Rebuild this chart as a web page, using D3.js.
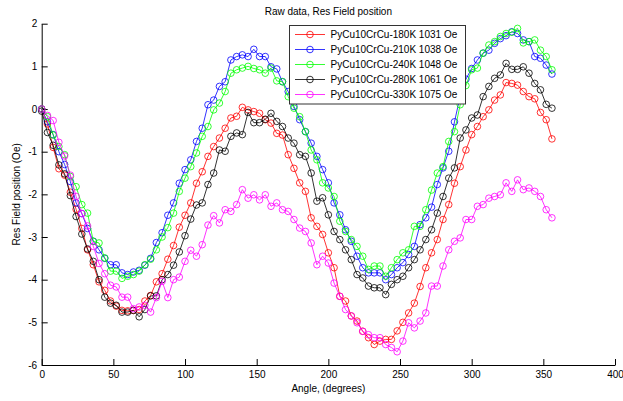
<!DOCTYPE html>
<html>
<head>
<meta charset="utf-8">
<script src="https://cdn.jsdelivr.net/npm/d3@7"></script>
<style>
  html, body { margin: 0; padding: 0; background: #fff; }
  svg { display: block; font-family: "Liberation Sans", Arial, sans-serif; }
</style>
</head>
<body>
<svg id="chart" width="623" height="401"></svg>
<script>
const angles = [0,4,8,12,16,20,24,28,32,36,40,44,48,52,56,60,64,68,72,76,80,84,88,92,96,100,104,108,112,116,120,124,128,132,136,140,144,148,152,156,160,164,168,172,176,180,184,188,192,196,200,204,208,212,216,220,224,228,232,236,240,244,248,252,256,260,264,268,272,276,280,284,288,292,296,300,304,308,312,316,320,324,328,332,336,340,344,348,352,356];

const seriesNames = ["PyCu10CrCu-180K 1031 Oe","PyCu10CrCu-210K 1038 Oe","PyCu10CrCu-240K 1048 Oe","PyCu10CrCu-280K 1061 Oe","PyCu10CrCu-330K 1075 Oe"];
const seriesColors = ["#ff0000","#0000ff","#00ff00","#000000","#ff00ff"];

const res180K = [0.0,-0.35,-0.9,-1.4,-1.55,-1.95,-2.35,-2.8,-3.3,-3.65,-4.05,-4.25,-4.5,-4.62,-4.72,-4.73,-4.72,-4.7,-4.5,-4.37,-4.05,-3.86,-3.52,-3.2,-2.77,-2.49,-2.2,-1.74,-1.47,-1.11,-0.88,-0.68,-0.45,-0.21,-0.17,0.04,-0.02,-0.06,-0.1,-0.25,-0.33,-0.57,-0.61,-1.07,-1.39,-1.73,-1.93,-2.55,-2.75,-2.94,-3.37,-3.72,-4.39,-4.5,-4.85,-4.97,-5.21,-5.36,-5.52,-5.44,-5.4,-5.4,-5.2,-5.0,-4.78,-4.55,-4.16,-3.72,-3.37,-3.06,-2.59,-2.24,-1.74,-1.35,-0.96,-0.6,-0.41,-0.18,-0.02,0.21,0.33,0.62,0.6,0.56,0.41,0.29,0.24,-0.08,-0.25,-0.7];

const res210K = [0.0,-0.3,-0.6,-1.0,-1.3,-1.7,-2.2,-2.45,-2.8,-3.1,-3.3,-3.5,-3.65,-3.65,-3.84,-3.88,-3.82,-3.78,-3.66,-3.5,-3.13,-2.9,-2.49,-2.2,-1.74,-1.42,-1.19,-0.76,-0.45,0.1,0.21,0.53,0.64,1.15,1.23,1.27,1.23,1.4,1.23,1.23,0.99,0.94,0.64,0.41,0.06,-0.25,-0.53,-0.8,-1.11,-1.42,-1.73,-2.2,-2.48,-2.83,-3.1,-3.45,-3.72,-3.84,-3.84,-3.84,-4.0,-3.88,-3.72,-3.6,-3.41,-3.22,-2.71,-2.55,-2.3,-1.77,-1.38,-0.99,-0.3,0.3,0.7,0.95,1.15,1.31,1.38,1.54,1.65,1.72,1.81,1.77,1.62,1.58,1.23,1.19,1.03,0.82];

const res240K = [0.0,-0.18,-0.61,-0.88,-1.07,-1.58,-1.82,-2.24,-2.44,-3.1,-3.14,-3.49,-3.8,-3.8,-3.97,-3.92,-3.88,-3.8,-3.65,-3.52,-3.3,-3.0,-2.78,-2.44,-1.93,-1.62,-1.35,-1.03,-0.64,-0.41,-0.02,0.14,0.41,0.84,0.92,0.96,1.0,0.95,0.92,0.84,0.96,0.66,0.64,0.29,0.02,-0.18,-0.53,-0.96,-1.19,-1.73,-1.85,-2.05,-2.63,-2.87,-3.06,-3.22,-3.45,-3.76,-3.68,-3.68,-3.92,-3.72,-3.53,-3.37,-3.3,-2.75,-2.75,-2.36,-1.9,-1.5,-1.35,-0.76,-0.53,0.1,0.55,0.92,0.96,1.31,1.5,1.58,1.7,1.77,1.8,1.89,1.55,1.58,1.62,1.38,1.23,0.92];

const res280K = [-0.05,-0.55,-0.85,-1.31,-1.52,-2.03,-2.52,-2.93,-3.28,-3.57,-4.0,-4.41,-4.55,-4.6,-4.76,-4.76,-4.72,-4.87,-4.7,-4.38,-4.38,-4.0,-3.88,-3.66,-3.35,-2.97,-2.58,-2.25,-2.2,-1.77,-1.5,-0.96,-0.99,-0.64,-0.56,-0.6,-0.08,-0.32,-0.32,-0.24,-0.1,-0.29,-0.41,-0.68,-0.8,-1.07,-1.11,-1.5,-2.16,-2.08,-2.48,-2.87,-3.06,-3.3,-3.53,-3.88,-3.96,-4.15,-4.19,-4.19,-4.35,-4.11,-4.0,-3.92,-3.72,-3.53,-3.3,-3.06,-2.83,-2.44,-2.05,-1.62,-1.38,-0.68,-0.49,-0.21,-0.14,0.29,0.53,0.72,0.8,1.07,0.93,0.93,0.99,0.84,0.6,0.45,0.11,0.02];

const res330K = [0.0,-0.15,-0.27,-0.78,-1.1,-1.55,-2.05,-2.45,-2.74,-3.22,-3.62,-3.86,-4.13,-4.17,-4.41,-4.41,-4.68,-4.64,-4.6,-4.76,-4.42,-4.04,-4.42,-4.0,-3.94,-3.57,-3.31,-3.45,-3.18,-2.72,-2.5,-2.67,-2.36,-2.4,-2.24,-1.89,-2.09,-2.01,-2.13,-2.01,-2.28,-2.2,-2.36,-2.4,-2.59,-2.79,-2.87,-3.14,-3.65,-3.45,-3.61,-4.08,-4.39,-4.7,-4.85,-5.01,-5.21,-5.29,-5.36,-5.36,-5.52,-5.59,-5.69,-5.44,-5.01,-5.13,-4.97,-4.78,-4.15,-4.15,-3.68,-3.3,-3.1,-3.02,-2.59,-2.59,-2.28,-2.24,-2.09,-2.05,-2.01,-1.73,-1.93,-1.66,-1.89,-1.85,-1.93,-2.05,-2.36,-2.55];

const xTicks = [0,50,100,150,200,250,300,350,400];
const yTicks = [-6,-5,-4,-3,-2,-1,0,1,2];
const titleText = "Raw data, Res Field position";
const xLabel = "Angle, (degrees)";
const yLabel = "Res Field position (Oe)";

const allSeries = [res180K, res210K, res240K, res280K, res330K];

const svg = d3.select("#chart");
const plotLeft = 41.7, plotRight = 615, plotTop = 23.7, plotBottom = 365;

const x = d3.scaleLinear().domain([0, 400]).range([plotLeft, plotRight]);
const y = d3.scaleLinear().domain([-6, 2]).range([plotBottom, plotTop]);

// axes
const fmt = d => String(d);
const xAxis = d3.axisBottom(x).tickValues(xTicks).tickFormat(fmt).tickSizeInner(-6).tickSizeOuter(0).tickPadding(5.5);
const yAxis = d3.axisLeft(y).tickValues(yTicks).tickFormat(fmt).tickSizeInner(-6).tickSizeOuter(0).tickPadding(4.5);

const gx = svg.append("g").attr("transform", `translate(0,${plotBottom})`).call(xAxis);
const gy = svg.append("g").attr("transform", `translate(${plotLeft},0)`).call(yAxis);
[gx, gy].forEach(g => {
  g.selectAll("path.domain").attr("stroke", "#000").attr("stroke-width", 1);
  g.selectAll(".tick line").attr("stroke", "#000").attr("stroke-width", 1);
  g.selectAll(".tick text").attr("fill", "#000").style("font-size", "10px")
    .style("font-family", "'Liberation Sans', Arial, sans-serif");
});

// series
const line = d3.line().x((d, i) => x(angles[i])).y(d => y(d));
allSeries.forEach((vals, si) => {
  const g = svg.append("g");
  g.append("path").datum(vals)
    .attr("d", line).attr("fill", "none")
    .attr("stroke", seriesColors[si]).attr("stroke-width", 0.8);
  g.selectAll("circle").data(vals).join("circle")
    .attr("cx", (d, i) => x(angles[i])).attr("cy", d => y(d))
    .attr("r", 3.3).attr("fill", "none")
    .attr("stroke", seriesColors[si]).attr("stroke-width", 0.8);
});

// title and labels
svg.append("text").attr("x", (plotLeft + plotRight) / 2).attr("y", 15)
  .attr("text-anchor", "middle").style("font-size", "10px").attr("fill", "#000").text(titleText);
svg.append("text").attr("x", (plotLeft + plotRight) / 2).attr("y", 392)
  .attr("text-anchor", "middle").style("font-size", "10px").attr("fill", "#000").text(xLabel);
svg.append("text").attr("transform", `translate(20,${(plotTop + plotBottom) / 2}) rotate(-90)`)
  .attr("text-anchor", "middle").style("font-size", "10px").attr("fill", "#000").text(yLabel);

// legend
const lg = svg.append("g");
lg.append("rect").attr("x", 289.5).attr("y", 25.5).attr("width", 176).attr("height", 78.5)
  .attr("fill", "#fff").attr("stroke", "#333").attr("stroke-width", 1);
seriesNames.forEach((name, i) => {
  const yy = 34.5 + i * 15;
  lg.append("line").attr("x1", 295).attr("x2", 325).attr("y1", yy).attr("y2", yy)
    .attr("stroke", seriesColors[i]).attr("stroke-width", 0.8);
  lg.append("circle").attr("cx", 310).attr("cy", yy).attr("r", 3.3)
    .attr("fill", "none").attr("stroke", seriesColors[i]).attr("stroke-width", 0.8);
  lg.append("text").attr("x", 330.5).attr("y", yy + 3.6)
    .style("font-size", "10px").attr("fill", "#000").text(name);
});
</script>
</body>
</html>
